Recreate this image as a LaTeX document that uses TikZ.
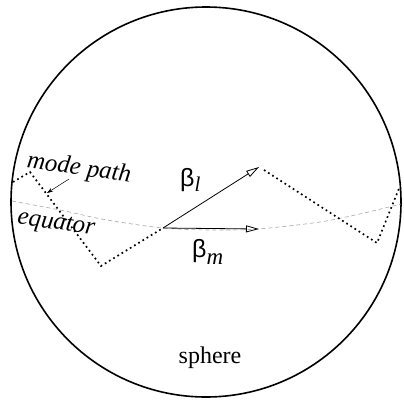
\documentclass[tikz,border=0pt]{standalone}
\usepackage{fontspec}
\setmainfont{Liberation Serif}
\newfontfamily\betafam{Liberation Sans}
\usetikzlibrary{arrows.meta}
\begin{document}
\begin{tikzpicture}[x=1pt,y=-1pt,
  modepath/.style={line width=1.7pt, dash pattern=on 1.7pt off 3.2pt, line cap=butt},
  equatorline/.style={gray!70, line width=0.6pt, dash pattern=on 4pt off 3pt},
  vec/.style={line width=0.8pt, -{Triangle[open,length=13pt,width=7pt]}},
  lbl/.style={inner sep=0pt, font=\fontsize{25}{28}\selectfont\itshape},
  beta/.style={inner sep=0pt, anchor=base west}]
\useasboundingbox (0,0) rectangle (404,399);
\node[draw, circle, line width=1.6pt, minimum size=390pt, inner sep=0pt] (sph) at (206,202) {};
% equator
\draw[equatorline] plot[smooth] coordinates {(12,201) (60,210) (107,220) (163,228) (210,230) (258,229) (320,222) (364,213) (401,204)};
% mode path
\coordinate (m0) at (13,182);
\coordinate (m1) at (30,172);
\coordinate (m2) at (101,266);
\coordinate (O) at (163,228);
\coordinate (L) at (259,167);
\coordinate (M) at (259,229);
\coordinate (m3) at (264,170);
\coordinate (m4) at (377,243);
\coordinate (m5) at (400,186);
\draw[modepath] (m0) -- (m1) -- (m2) -- (O);
\draw[modepath] (m3) -- (m4) -- (m5);
% vectors
\draw[vec] (O) -- (L);
\draw[vec] (O) -- (M);
% labels
\node[lbl, rotate=-8] (mp) at (79,169) {mode path};
\node[lbl, rotate=-8] (eq) at (56,225) {equator};
\coordinate (pt) at (47,193);
\coordinate (ps) at (69,179);
\draw[line width=0.5pt, -{Stealth[length=6pt,width=4pt]}] (ps) -- (pt);
\node[beta] (bl) at (180,186) {\fontsize{25}{28}\betafam β\raisebox{-5pt}{\fontsize{21}{22}\rmfamily\itshape l}};
\node[beta] (bm) at (192,257) {\fontsize{25}{28}\betafam β\raisebox{-7pt}{\fontsize{23}{24}\rmfamily\itshape m}};
\node[inner sep=0pt, font=\fontsize{24}{28}\selectfont] (sp) at (210,358) {sphere};
\end{tikzpicture}
\end{document}
